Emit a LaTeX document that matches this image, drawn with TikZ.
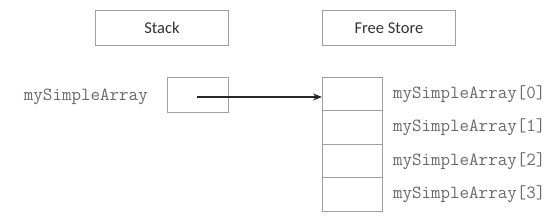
\documentclass[tikz,border=0pt]{standalone}
\usepackage{fontspec}
\setmainfont{Carlito}
\usetikzlibrary{arrows.meta}
\definecolor{boxgray}{HTML}{A0A0A0}
\definecolor{codegray}{HTML}{6A6A6A}
\definecolor{titlegray}{HTML}{333333}
\begin{document}
\begin{tikzpicture}[x=1pt,y=-1pt,
  cell/.style={draw=boxgray,line width=0.8pt,minimum width=60pt,minimum height=33.5pt,inner sep=0pt,anchor=north west},
  title/.style={draw=boxgray,line width=0.8pt,minimum width=133pt,minimum height=35pt,inner sep=0pt,font=\fontsize{16.5}{18}\selectfont,text=titlegray,anchor=north west},
  code/.style={font=\ttfamily\fontsize{18.5}{20}\selectfont,text=codegray,inner sep=0pt}]
\useasboundingbox (0,0) rectangle (558,219);
\node[title] (stack) at (95,10) {Stack};
\node[title] (free) at (322,10) {Free Store};
\node[cell,minimum width=61pt,minimum height=35pt] (ptr) at (167,77) {};
\node[code,anchor=east] (ptrlbl) at (148,97) {mySimpleArray};
\node[cell] (c0) at (322,77) {};
\node[cell] (c1) at (322,110.5) {};
\node[cell] (c2) at (322,144) {};
\node[cell] (c3) at (322,177.5) {};
\foreach \i in {0,1,2,3} {
  \node[code,anchor=west] (l\i) at ([xshift=10pt]c\i.east) {mySimpleArray[\i]};
}
\coordinate (start) at (197,97);
\draw[line width=1.3pt,draw=black!85,-{Stealth[length=9pt,width=7pt]}] (start) -- (start -| c0.west);
\end{tikzpicture}
\end{document}
